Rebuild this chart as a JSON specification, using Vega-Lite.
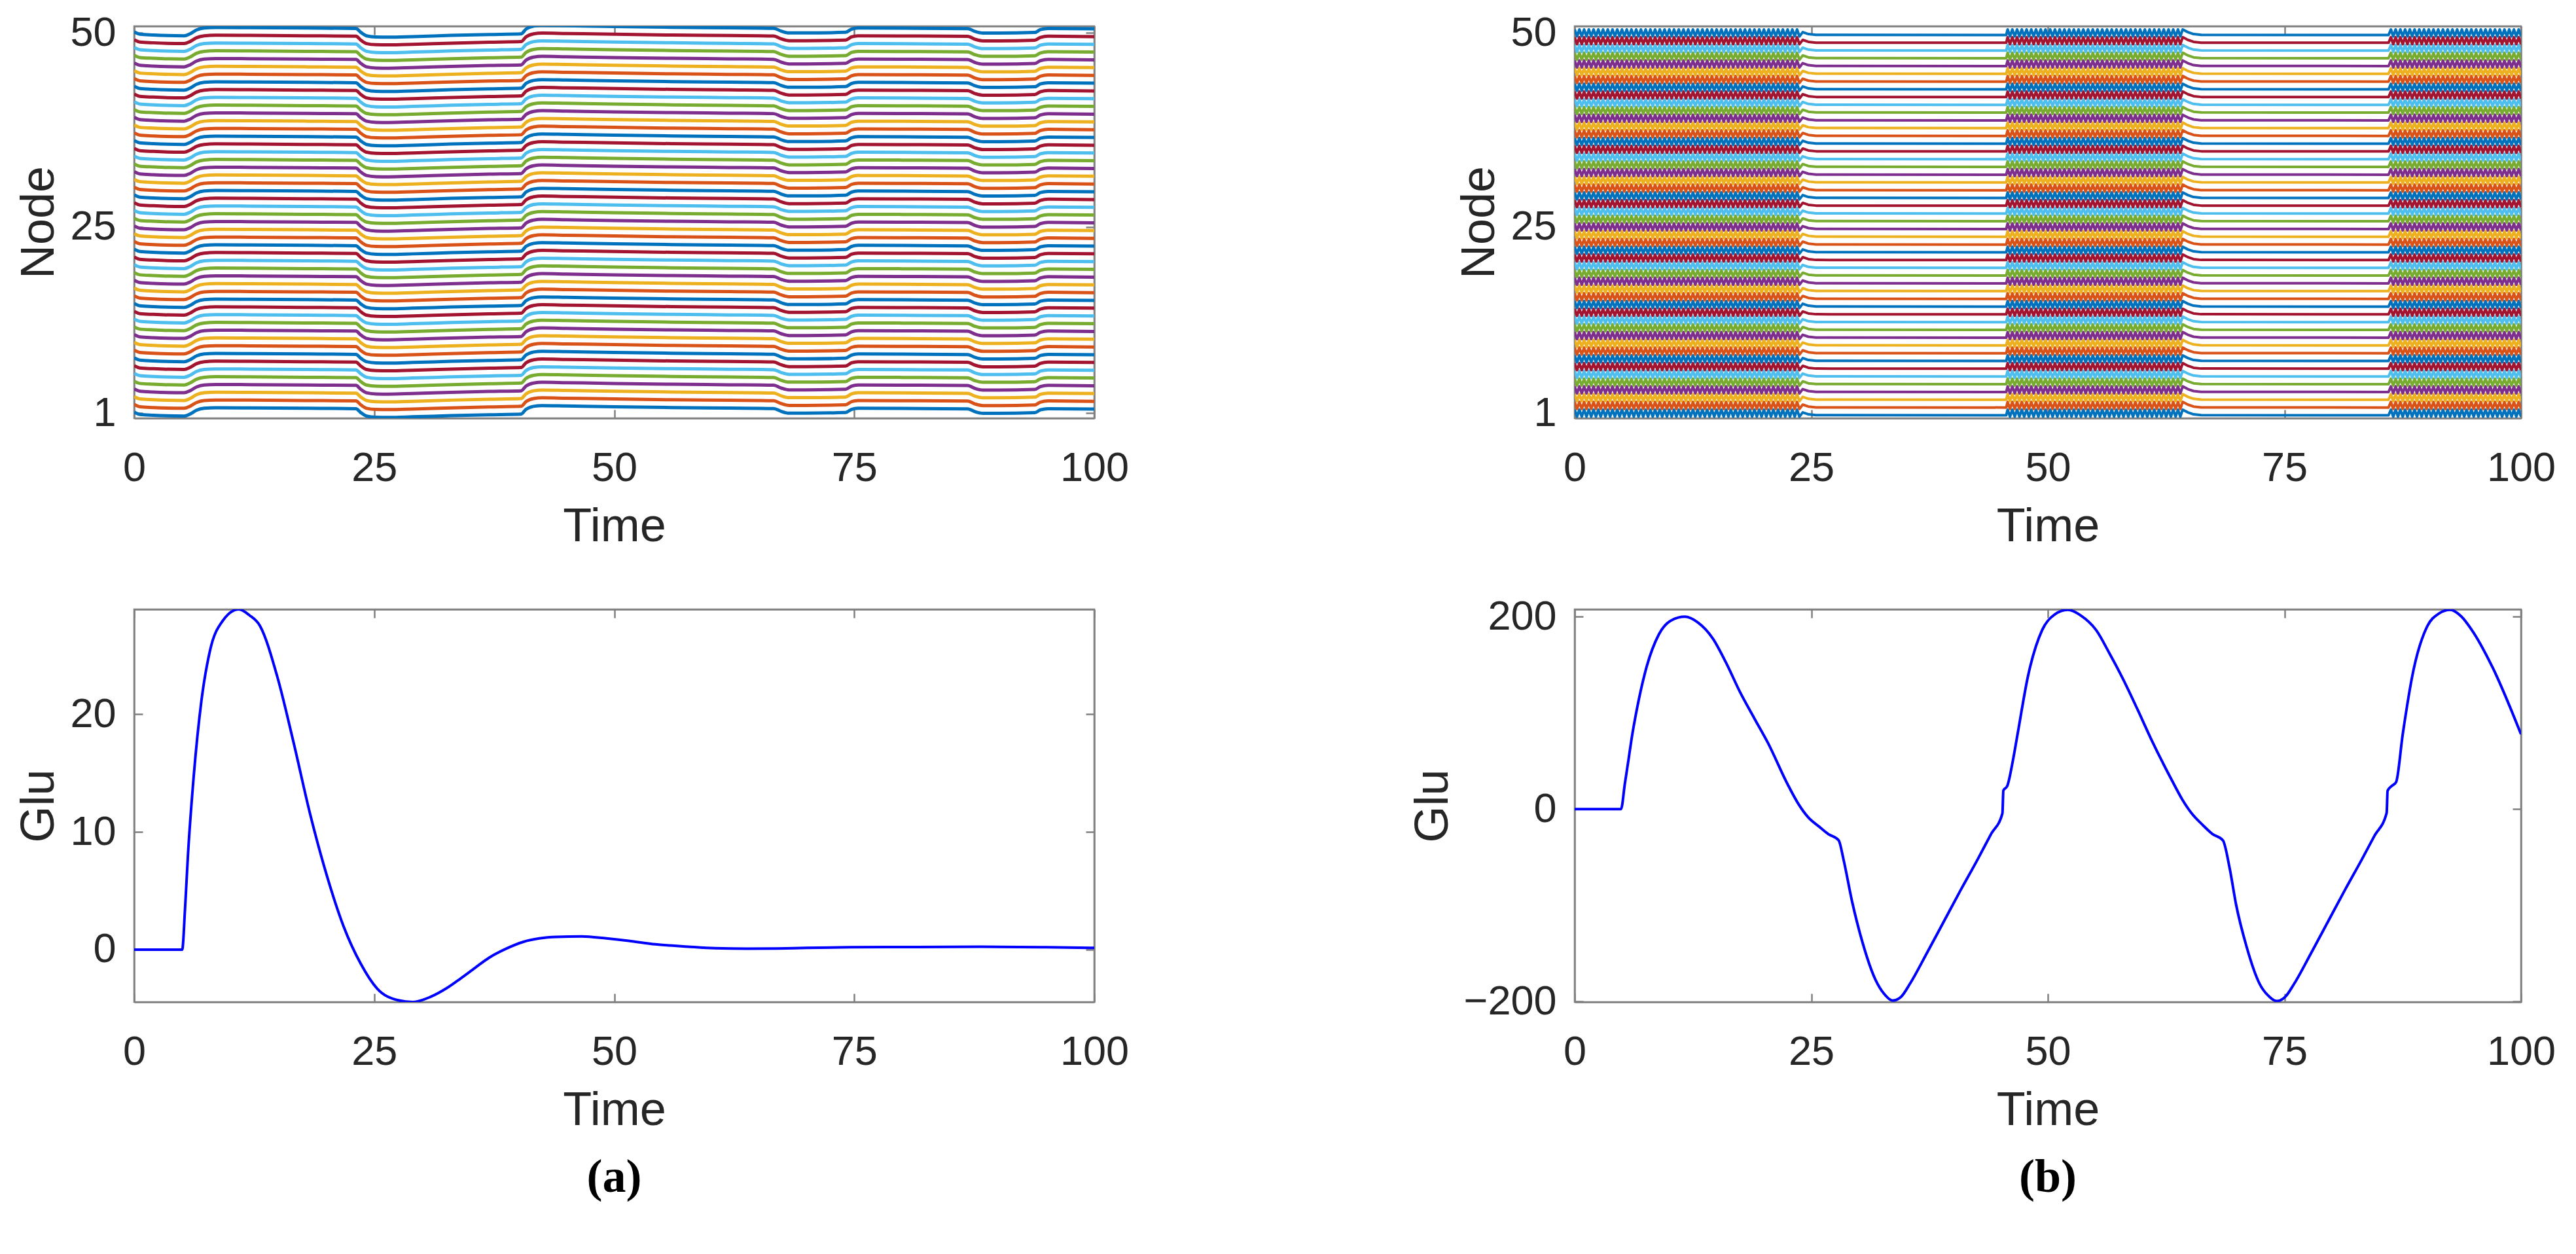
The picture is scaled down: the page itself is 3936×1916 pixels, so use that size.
{
"$schema":"https://vega.github.io/schema/vega-lite/v6.json",
"background":"white",
"padding":{"left":22,"top":18,"right":0,"bottom":0},
"config":{
 "view":{"stroke":"#808080","strokeWidth":2.5},
 "axis":{"labelFont":"Liberation Sans","labelFontSize":63,"labelColor":"#262626","titleFont":"Liberation Sans","titleFontSize":72,"titleFontWeight":"normal","titleColor":"#262626","domainColor":"#808080","domainWidth":2.5,"tickColor":"#808080","tickWidth":2.5,"tickSize":-13,"grid":false,"labelFlush":false,"labelOverlap":false},
 "axisX":{"labelPadding":58,"titlePadding":22},
 "axisY":{"labelPadding":41,"titlePadding":10}
},
"datasets":{
"left":[{"t":0,"a":1.13,"b":1},{"t":0.6,"a":0.83,"b":1},{"t":2,"a":0.73,"b":1},{"t":5.2,"a":0.63,"b":1},{"t":5.8,"a":0.88,"b":1},{"t":6.5,"a":1.38,"b":1},{"t":7.3,"a":1.63,"b":1},{"t":8.5,"a":1.7,"b":1},{"t":12,"a":1.68,"b":1},{"t":18,"a":1.63,"b":1},{"t":23.1,"a":1.58,"b":1},{"t":23.6,"a":1.08,"b":1},{"t":24.2,"a":0.63,"b":1},{"t":25.2,"a":0.48,"b":1},{"t":26.5,"a":0.46,"b":1},{"t":29,"a":0.53,"b":1},{"t":33,"a":0.68,"b":1},{"t":37,"a":0.8,"b":1},{"t":40.3,"a":0.88,"b":1},{"t":40.8,"a":1.48,"b":1},{"t":41.6,"a":1.88,"b":1},{"t":42.5,"a":1.98,"b":1},{"t":45,"a":1.93,"b":1},{"t":50,"a":1.83,"b":1},{"t":56,"a":1.73,"b":1},{"t":62,"a":1.66,"b":1},{"t":66.6,"a":1.6,"b":1},{"t":67.4,"a":1.23,"b":1},{"t":68.2,"a":1.0,"b":1},{"t":70,"a":1.0,"b":1},{"t":74.1,"a":1.08,"b":1},{"t":74.7,"a":1.48,"b":1},{"t":75.4,"a":1.63,"b":1},{"t":80,"a":1.61,"b":1},{"t":86.8,"a":1.56,"b":1},{"t":87.6,"a":1.18,"b":1},{"t":88.4,"a":0.98,"b":1},{"t":90,"a":0.98,"b":1},{"t":93.8,"a":1.06,"b":1},{"t":94.4,"a":1.43,"b":1},{"t":95.2,"a":1.58,"b":1},{"t":100,"a":1.53,"b":1}],
"right":[
{"t":0,"a":1.45,"b":1},{"t":0.25,"a":0.55,"b":1},{"t":0.5,"a":1.45,"b":1},{"t":0.75,"a":0.55,"b":1},
{"t":1,"a":1.45,"b":1},{"t":1.25,"a":0.55,"b":1},{"t":1.5,"a":1.45,"b":1},{"t":1.75,"a":0.55,"b":1},
{"t":2,"a":1.45,"b":1},{"t":2.25,"a":0.55,"b":1},{"t":2.5,"a":1.45,"b":1},{"t":2.75,"a":0.55,"b":1},
{"t":3,"a":1.45,"b":1},{"t":3.25,"a":0.55,"b":1},{"t":3.5,"a":1.45,"b":1},{"t":3.75,"a":0.55,"b":1},
{"t":4,"a":1.45,"b":1},{"t":4.25,"a":0.55,"b":1},{"t":4.5,"a":1.45,"b":1},{"t":4.75,"a":0.55,"b":1},
{"t":5,"a":1.45,"b":1},{"t":5.25,"a":0.55,"b":1},{"t":5.5,"a":1.45,"b":1},{"t":5.75,"a":0.55,"b":1},
{"t":6,"a":1.45,"b":1},{"t":6.25,"a":0.55,"b":1},{"t":6.5,"a":1.45,"b":1},{"t":6.75,"a":0.55,"b":1},
{"t":7,"a":1.45,"b":1},{"t":7.25,"a":0.55,"b":1},{"t":7.5,"a":1.45,"b":1},{"t":7.75,"a":0.55,"b":1},
{"t":8,"a":1.45,"b":1},{"t":8.25,"a":0.55,"b":1},{"t":8.5,"a":1.45,"b":1},{"t":8.75,"a":0.55,"b":1},
{"t":9,"a":1.45,"b":1},{"t":9.25,"a":0.55,"b":1},{"t":9.5,"a":1.45,"b":1},{"t":9.75,"a":0.55,"b":1},
{"t":10,"a":1.45,"b":1},{"t":10.25,"a":0.55,"b":1},{"t":10.5,"a":1.45,"b":1},{"t":10.75,"a":0.55,"b":1},
{"t":11,"a":1.45,"b":1},{"t":11.25,"a":0.55,"b":1},{"t":11.5,"a":1.45,"b":1},{"t":11.75,"a":0.55,"b":1},
{"t":12,"a":1.45,"b":1},{"t":12.25,"a":0.55,"b":1},{"t":12.5,"a":1.45,"b":1},{"t":12.75,"a":0.55,"b":1},
{"t":13,"a":1.45,"b":1},{"t":13.25,"a":0.55,"b":1},{"t":13.5,"a":1.45,"b":1},{"t":13.75,"a":0.55,"b":1},
{"t":14,"a":1.45,"b":1},{"t":14.25,"a":0.55,"b":1},{"t":14.5,"a":1.45,"b":1},{"t":14.75,"a":0.55,"b":1},
{"t":15,"a":1.45,"b":1},{"t":15.25,"a":0.55,"b":1},{"t":15.5,"a":1.45,"b":1},{"t":15.75,"a":0.55,"b":1},
{"t":16,"a":1.45,"b":1},{"t":16.25,"a":0.55,"b":1},{"t":16.5,"a":1.45,"b":1},{"t":16.75,"a":0.55,"b":1},
{"t":17,"a":1.45,"b":1},{"t":17.25,"a":0.55,"b":1},{"t":17.5,"a":1.45,"b":1},{"t":17.75,"a":0.55,"b":1},
{"t":18,"a":1.45,"b":1},{"t":18.25,"a":0.55,"b":1},{"t":18.5,"a":1.45,"b":1},{"t":18.75,"a":0.55,"b":1},
{"t":19,"a":1.45,"b":1},{"t":19.25,"a":0.55,"b":1},{"t":19.5,"a":1.45,"b":1},{"t":19.75,"a":0.55,"b":1},
{"t":20,"a":1.45,"b":1},{"t":20.25,"a":0.55,"b":1},{"t":20.5,"a":1.45,"b":1},{"t":20.75,"a":0.55,"b":1},
{"t":21,"a":1.45,"b":1},{"t":21.25,"a":0.55,"b":1},{"t":21.5,"a":1.45,"b":1},{"t":21.75,"a":0.55,"b":1},
{"t":22,"a":1.45,"b":1},{"t":22.25,"a":0.55,"b":1},{"t":22.5,"a":1.45,"b":1},{"t":22.75,"a":0.55,"b":1},
{"t":23,"a":1.45,"b":1},{"t":23.25,"a":0.55,"b":1},{"t":23.5,"a":1.45,"b":1},{"t":23.75,"a":0.55,"b":1},
{"t":24.1,"a":1.1,"b":1},{"t":24.7,"a":0.85,"b":1},{"t":25.5,"a":0.75,"b":1},{"t":45.6,"a":0.73,"b":1},
{"t":45.75,"a":1.45,"b":1},
{"t":46,"a":0.55,"b":1},{"t":46.25,"a":1.45,"b":1},{"t":46.5,"a":0.55,"b":1},{"t":46.75,"a":1.45,"b":1},
{"t":47,"a":0.55,"b":1},{"t":47.25,"a":1.45,"b":1},{"t":47.5,"a":0.55,"b":1},{"t":47.75,"a":1.45,"b":1},
{"t":48,"a":0.55,"b":1},{"t":48.25,"a":1.45,"b":1},{"t":48.5,"a":0.55,"b":1},{"t":48.75,"a":1.45,"b":1},
{"t":49,"a":0.55,"b":1},{"t":49.25,"a":1.45,"b":1},{"t":49.5,"a":0.55,"b":1},{"t":49.75,"a":1.45,"b":1},
{"t":50,"a":0.55,"b":1},{"t":50.25,"a":1.45,"b":1},{"t":50.5,"a":0.55,"b":1},{"t":50.75,"a":1.45,"b":1},
{"t":51,"a":0.55,"b":1},{"t":51.25,"a":1.45,"b":1},{"t":51.5,"a":0.55,"b":1},{"t":51.75,"a":1.45,"b":1},
{"t":52,"a":0.55,"b":1},{"t":52.25,"a":1.45,"b":1},{"t":52.5,"a":0.55,"b":1},{"t":52.75,"a":1.45,"b":1},
{"t":53,"a":0.55,"b":1},{"t":53.25,"a":1.45,"b":1},{"t":53.5,"a":0.55,"b":1},{"t":53.75,"a":1.45,"b":1},
{"t":54,"a":0.55,"b":1},{"t":54.25,"a":1.45,"b":1},{"t":54.5,"a":0.55,"b":1},{"t":54.75,"a":1.45,"b":1},
{"t":55,"a":0.55,"b":1},{"t":55.25,"a":1.45,"b":1},{"t":55.5,"a":0.55,"b":1},{"t":55.75,"a":1.45,"b":1},
{"t":56,"a":0.55,"b":1},{"t":56.25,"a":1.45,"b":1},{"t":56.5,"a":0.55,"b":1},{"t":56.75,"a":1.45,"b":1},
{"t":57,"a":0.55,"b":1},{"t":57.25,"a":1.45,"b":1},{"t":57.5,"a":0.55,"b":1},{"t":57.75,"a":1.45,"b":1},
{"t":58,"a":0.55,"b":1},{"t":58.25,"a":1.45,"b":1},{"t":58.5,"a":0.55,"b":1},{"t":58.75,"a":1.45,"b":1},
{"t":59,"a":0.55,"b":1},{"t":59.25,"a":1.45,"b":1},{"t":59.5,"a":0.55,"b":1},{"t":59.75,"a":1.45,"b":1},
{"t":60,"a":0.55,"b":1},{"t":60.25,"a":1.45,"b":1},{"t":60.5,"a":0.55,"b":1},{"t":60.75,"a":1.45,"b":1},
{"t":61,"a":0.55,"b":1},{"t":61.25,"a":1.45,"b":1},{"t":61.5,"a":0.55,"b":1},{"t":61.75,"a":1.45,"b":1},
{"t":62,"a":0.55,"b":1},{"t":62.25,"a":1.45,"b":1},{"t":62.5,"a":0.55,"b":1},{"t":62.75,"a":1.45,"b":1},
{"t":63,"a":0.55,"b":1},{"t":63.25,"a":1.45,"b":1},{"t":63.5,"a":0.55,"b":1},{"t":63.75,"a":1.45,"b":1},
{"t":64,"a":0.55,"b":1},{"t":64.25,"a":1.45,"b":1},
{"t":64.8,"a":1.1,"b":1},{"t":65.4,"a":0.85,"b":1},{"t":66.2,"a":0.75,"b":1},{"t":86,"a":0.73,"b":1},
{"t":86.25,"a":1.45,"b":1},{"t":86.5,"a":0.55,"b":1},{"t":86.75,"a":1.45,"b":1},
{"t":87,"a":0.55,"b":1},{"t":87.25,"a":1.45,"b":1},{"t":87.5,"a":0.55,"b":1},{"t":87.75,"a":1.45,"b":1},
{"t":88,"a":0.55,"b":1},{"t":88.25,"a":1.45,"b":1},{"t":88.5,"a":0.55,"b":1},{"t":88.75,"a":1.45,"b":1},
{"t":89,"a":0.55,"b":1},{"t":89.25,"a":1.45,"b":1},{"t":89.5,"a":0.55,"b":1},{"t":89.75,"a":1.45,"b":1},
{"t":90,"a":0.55,"b":1},{"t":90.25,"a":1.45,"b":1},{"t":90.5,"a":0.55,"b":1},{"t":90.75,"a":1.45,"b":1},
{"t":91,"a":0.55,"b":1},{"t":91.25,"a":1.45,"b":1},{"t":91.5,"a":0.55,"b":1},{"t":91.75,"a":1.45,"b":1},
{"t":92,"a":0.55,"b":1},{"t":92.25,"a":1.45,"b":1},{"t":92.5,"a":0.55,"b":1},{"t":92.75,"a":1.45,"b":1},
{"t":93,"a":0.55,"b":1},{"t":93.25,"a":1.45,"b":1},{"t":93.5,"a":0.55,"b":1},{"t":93.75,"a":1.45,"b":1},
{"t":94,"a":0.55,"b":1},{"t":94.25,"a":1.45,"b":1},{"t":94.5,"a":0.55,"b":1},{"t":94.75,"a":1.45,"b":1},
{"t":95,"a":0.55,"b":1},{"t":95.25,"a":1.45,"b":1},{"t":95.5,"a":0.55,"b":1},{"t":95.75,"a":1.45,"b":1},
{"t":96,"a":0.55,"b":1},{"t":96.25,"a":1.45,"b":1},{"t":96.5,"a":0.55,"b":1},{"t":96.75,"a":1.45,"b":1},
{"t":97,"a":0.55,"b":1},{"t":97.25,"a":1.45,"b":1},{"t":97.5,"a":0.55,"b":1},{"t":97.75,"a":1.45,"b":1},
{"t":98,"a":0.55,"b":1},{"t":98.25,"a":1.45,"b":1},{"t":98.5,"a":0.55,"b":1},{"t":98.75,"a":1.45,"b":1},
{"t":99,"a":0.55,"b":1},{"t":99.25,"a":1.45,"b":1},{"t":99.5,"a":0.55,"b":1},{"t":99.75,"a":1.45,"b":1},
{"t":100,"a":0.55,"b":1}],
"gluA":[{"t":0,"g":0},{"t":5,"g":0},{"t":5.3,"g":3.5},{"t":5.6,"g":8},{"t":6.2,"g":14.7},{"t":7,"g":21.1},{"t":7.9,"g":25.4},{"t":9.2,"g":27.9},{"t":10.9,"g":28.9},{"t":12,"g":28.4},{"t":13.1,"g":27.5},{"t":14.9,"g":23.2},{"t":16.6,"g":17.6},{"t":18.3,"g":11.6},{"t":20.1,"g":6.2},{"t":21.8,"g":2.0},{"t":23.6,"g":-1.2},{"t":25.3,"g":-3.3},{"t":27.5,"g":-4.3},{"t":29,"g":-4.45},{"t":30.9,"g":-4.0},{"t":32.5,"g":-3.3},{"t":34,"g":-2.45},{"t":35.5,"g":-1.55},{"t":37,"g":-0.67},{"t":38.8,"g":0.1},{"t":40.5,"g":0.65},{"t":42.2,"g":0.95},{"t":44,"g":1.08},{"t":46.6,"g":1.12},{"t":49.2,"g":0.95},{"t":51.5,"g":0.75},{"t":54.3,"g":0.45},{"t":57.7,"g":0.25},{"t":60.5,"g":0.12},{"t":63.8,"g":0.08},{"t":67,"g":0.1},{"t":70,"g":0.15},{"t":74.6,"g":0.2},{"t":80,"g":0.22},{"t":88.2,"g":0.24},{"t":95,"g":0.2},{"t":100,"g":0.15}],
"gluB":[{"t":0,"g":0},{"t":4.9,"g":0},{"t":5.3,"g":26},{"t":5.7,"g":52},{"t":6.0,"g":72},{"t":6.6,"g":105},{"t":7.46,"g":142.6},{"t":8.9,"g":181.5},{"t":10.2,"g":196},{"t":11.65,"g":199.8},{"t":13.0,"g":194},{"t":14.6,"g":177.2},{"t":16.0,"g":152},{"t":17.5,"g":121},{"t":19.0,"g":94},{"t":20.4,"g":69.2},{"t":22.5,"g":25.8},{"t":23.6,"g":6},{"t":24.7,"g":-8.8},{"t":25.8,"g":-18},{"t":26.8,"g":-26},{"t":27.9,"g":-32.6},{"t":28.4,"g":-52},{"t":29.3,"g":-95.4},{"t":30.4,"g":-138},{"t":31.8,"g":-177.6},{"t":32.7,"g":-192},{"t":33.6,"g":-199},{"t":34.5,"g":-195},{"t":35.4,"g":-182},{"t":37.2,"g":-150},{"t":39.0,"g":-117},{"t":40.8,"g":-84},{"t":42.6,"g":-52},{"t":44.0,"g":-26},{"t":45.2,"g":-4.5},{"t":45.3,"g":19.3},{"t":45.7,"g":23.7},{"t":46.3,"g":50},{"t":46.8,"g":77.7},{"t":47.9,"g":138},{"t":49.4,"g":186},{"t":50.7,"g":202},{"t":52.1,"g":207},{"t":53.5,"g":201},{"t":55.1,"g":186},{"t":56.5,"g":162},{"t":58.0,"g":134},{"t":59.5,"g":103},{"t":60.9,"g":73},{"t":63.1,"g":30},{"t":64.2,"g":10},{"t":65.2,"g":-4.5},{"t":66.3,"g":-16},{"t":67.4,"g":-26},{"t":68.5,"g":-32.6},{"t":69.2,"g":-60.8},{"t":69.9,"g":-99.7},{"t":71.0,"g":-143},{"t":72.4,"g":-182},{"t":73.3,"g":-194},{"t":74.2,"g":-199.5},{"t":75.1,"g":-195},{"t":76.0,"g":-182},{"t":77.8,"g":-150},{"t":79.6,"g":-117},{"t":81.4,"g":-84},{"t":83.2,"g":-52},{"t":84.5,"g":-28},{"t":85.8,"g":-4},{"t":85.9,"g":19},{"t":86.3,"g":23.7},{"t":86.8,"g":28},{"t":87.5,"g":77.7},{"t":88.6,"g":142.6},{"t":90.1,"g":190},{"t":91.3,"g":203},{"t":92.5,"g":207},{"t":93.7,"g":200},{"t":94.8,"g":186},{"t":97.0,"g":147},{"t":100,"g":77.7}]
},
"spacing":67,
"vconcat":[
{"spacing":497,"hconcat":[
 {"width":1467,"height":599,"data":{"name":"left"},
  "transform":[
   {"fold":["a","b","b","b","b","b","b","b","b","b","b","b","b","b","b","b","b","b","b","b","b","b","b","b","b","b","b","b","b","b","b","b","b","b","b","b","b","b","b","b","b","b","b","b","b","b","b","b","b","b"],"as":["k","v"]},
   {"window":[{"op":"row_number","as":"node"},{"op":"sum","field":"v","as":"y"}],"groupby":["t"],"frame":[null,0],"ignorePeers":true}
  ],
  "layer":[
   {"mark":{"type":"line","strokeWidth":5,"clip":true,"interpolate":"monotone"},
    "encoding":{
     "x":{"field":"t","type":"quantitative","scale":{"domain":[0,100],"nice":false,"zero":false},"axis":{"values":[0,25,50,75,100],"title":"Time"}},
     "y":{"field":"y","type":"quantitative","scale":{"domain":[0.35,50.87],"nice":false,"zero":false},"axis":{"values":[1,25,50],"title":"Node"}},
     "color":{"field":"node","type":"nominal","legend":null,"scale":{"domain":[1,2,3,4,5,6,7,8,9,10,11,12,13,14,15,16,17,18,19,20,21,22,23,24,25,26,27,28,29,30,31,32,33,34,35,36,37,38,39,40,41,42,43,44,45,46,47,48,49,50],"range":["#0072BD","#D95319","#EDB120","#7E2F8E","#77AC30","#4DBEEE","#A2142F"]}}}},
   {"mark":{"type":"line","opacity":0},
    "encoding":{
     "x":{"field":"t","type":"quantitative","scale":{"domain":[0,100],"nice":false,"zero":false},"axis":{"orient":"top","values":[0,25,50,75,100],"labels":false,"title":null}},
     "y":{"field":"y","type":"quantitative","scale":{"domain":[0.35,50.87],"nice":false,"zero":false},"axis":{"orient":"right","values":[1,25,50],"labels":false,"title":null}},
     "detail":{"field":"node","type":"nominal"}}}
  ],
  "resolve":{"axis":{"x":"independent","y":"independent"}}},
 {"width":1446,"height":599,"data":{"name":"right"},
  "transform":[
   {"fold":["a","b","b","b","b","b","b","b","b","b","b","b","b","b","b","b","b","b","b","b","b","b","b","b","b","b","b","b","b","b","b","b","b","b","b","b","b","b","b","b","b","b","b","b","b","b","b","b","b","b"],"as":["k","v"]},
   {"window":[{"op":"row_number","as":"node"},{"op":"sum","field":"v","as":"y"}],"groupby":["t"],"frame":[null,0],"ignorePeers":true}
  ],
  "layer":[
   {"mark":{"type":"line","strokeWidth":4,"clip":true,"strokeJoin":"round"},
    "encoding":{
     "x":{"field":"t","type":"quantitative","scale":{"domain":[0,100],"nice":false,"zero":false},"axis":{"values":[0,25,50,75,100],"title":"Time"}},
     "y":{"field":"y","type":"quantitative","scale":{"domain":[0.35,50.87],"nice":false,"zero":false},"axis":{"values":[1,25,50],"title":"Node"}},
     "color":{"field":"node","type":"nominal","legend":null,"scale":{"domain":[1,2,3,4,5,6,7,8,9,10,11,12,13,14,15,16,17,18,19,20,21,22,23,24,25,26,27,28,29,30,31,32,33,34,35,36,37,38,39,40,41,42,43,44,45,46,47,48,49,50],"range":["#0072BD","#D95319","#EDB120","#7E2F8E","#77AC30","#4DBEEE","#A2142F"]}}}},
   {"mark":{"type":"line","opacity":0},
    "encoding":{
     "x":{"field":"t","type":"quantitative","scale":{"domain":[0,100],"nice":false,"zero":false},"axis":{"orient":"top","values":[0,25,50,75,100],"labels":false,"title":null}},
     "y":{"field":"y","type":"quantitative","scale":{"domain":[0.35,50.87],"nice":false,"zero":false},"axis":{"orient":"right","values":[1,25,50],"labels":false,"title":null}},
     "detail":{"field":"node","type":"nominal"}}}
  ],
  "resolve":{"axis":{"x":"independent","y":"independent"}}}
]},
{"spacing":425,"hconcat":[
 {"width":1467,"height":600,"data":{"name":"gluA"},
  "title":{"text":"(a)","orient":"bottom","anchor":"middle","frame":"group","font":"Liberation Serif","fontSize":72,"fontWeight":"bold","color":"#000000","offset":32},
  "layer":[
   {"mark":{"type":"line","color":"#0000FF","strokeWidth":4,"clip":true,"interpolate":"monotone"},
    "encoding":{
     "x":{"field":"t","type":"quantitative","scale":{"domain":[0,100],"nice":false,"zero":false},"axis":{"values":[0,25,50,75,100],"title":"Time"}},
     "y":{"field":"g","type":"quantitative","scale":{"domain":[-4.45,28.9],"nice":false,"zero":false},"axis":{"values":[0,10,20],"title":"Glu"}}}},
   {"mark":{"type":"line","opacity":0},
    "encoding":{
     "x":{"field":"t","type":"quantitative","scale":{"domain":[0,100],"nice":false,"zero":false},"axis":{"orient":"top","values":[0,25,50,75,100],"labels":false,"title":null}},
     "y":{"field":"g","type":"quantitative","scale":{"domain":[-4.45,28.9],"nice":false,"zero":false},"axis":{"orient":"right","values":[0,10,20],"labels":false,"title":null}}}}
  ],
  "resolve":{"axis":{"x":"independent","y":"independent"}}},
 {"width":1446,"height":600,"data":{"name":"gluB"},
  "title":{"text":"(b)","orient":"bottom","anchor":"middle","frame":"group","font":"Liberation Serif","fontSize":72,"fontWeight":"bold","color":"#000000","offset":32},
  "layer":[
   {"mark":{"type":"line","color":"#0000FF","strokeWidth":4,"clip":true,"interpolate":"monotone"},
    "encoding":{
     "x":{"field":"t","type":"quantitative","scale":{"domain":[0,100],"nice":false,"zero":false},"axis":{"values":[0,25,50,75,100],"title":"Time"}},
     "y":{"field":"g","type":"quantitative","scale":{"domain":[-200.5,207.5],"nice":false,"zero":false},"axis":{"values":[-200,0,200],"title":"Glu"}}}},
   {"mark":{"type":"line","opacity":0},
    "encoding":{
     "x":{"field":"t","type":"quantitative","scale":{"domain":[0,100],"nice":false,"zero":false},"axis":{"orient":"top","values":[0,25,50,75,100],"labels":false,"title":null}},
     "y":{"field":"g","type":"quantitative","scale":{"domain":[-200.5,207.5],"nice":false,"zero":false},"axis":{"orient":"right","values":[-200,0,200],"labels":false,"title":null}}}}
  ],
  "resolve":{"axis":{"x":"independent","y":"independent"}}}
]}
]
}
